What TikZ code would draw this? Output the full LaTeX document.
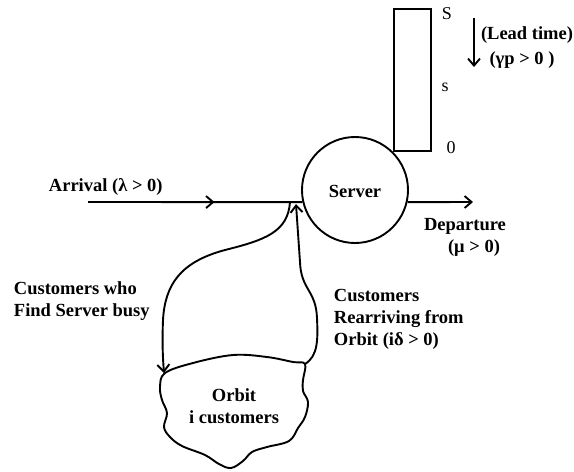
\documentclass[tikz,border=0pt]{standalone}
\usepackage{fontspec}
\setmainfont{Liberation Serif}
\usetikzlibrary{arrows.meta,decorations.markings}
\begin{document}
\begin{tikzpicture}[x=1pt,y=-1pt, line width=1.9pt,
  lbl/.style={font=\fontsize{18.5}{22}\selectfont\bfseries, inner sep=0pt},
  plain/.style={font=\fontsize{18}{22}\selectfont, inner sep=0pt},
  tip/.style={-{Straight Barb[length=7pt,width=12pt,line width=1.9pt]}},
  midarrow/.style={postaction={decorate},decoration={markings,
    mark=at position 0.59 with {\arrow{Straight Barb[length=7pt,width=12pt,line width=1.9pt]}}}}]
\useasboundingbox (0,0) rectangle (574,472);
% inventory
\node[draw, minimum width=37pt, minimum height=142pt, inner sep=0pt] (stock) at (412.5,80) {};
\node[plain] (S) at (447,14) {S};
\node[plain] (smalls) at (445,87) {s};
\node[plain] (zero) at (451,148) {0};
\coordinate (lt1) at (474,18);
\coordinate (lt2) at (474,67);
\draw[tip] (lt1) -- (lt2);
\node[lbl] (lead) at (527,35) {(Lead time)};
\node[lbl] (gamma) at (522,60) {(γp > 0 )};
% server
\node[draw, circle, minimum size=106pt, inner sep=0pt] (server) at (355,190) {};
\node[lbl] (servertext) at (355,191) {Server};
% arrival
\coordinate (arrstart) at (88,202);
\draw[midarrow] (arrstart) -- (server.193);
\node[lbl, anchor=west] (arrival) at (48,187) {Arrival (λ > 0)};
% departure
\coordinate (dep) at (473,202);
\draw[tip] (server.-13) -- (dep);
\node[lbl] (dep1) at (465,226) {Departure};
\node[lbl] (dep2) at (474,248) {(μ > 0)};
% orbit
\draw plot[smooth cycle, tension=0.6] coordinates {
  (165,373) (193,363) (233,355) (267,357) (293,362) (305,364)
  (303,380) (303,391) (308,402) (305,417) (298,428) (289,441)
  (267,447) (252,452) (243,461) (231,468) (219,464) (205,455)
  (182,446) (170,437) (164,427) (167,413) (162,400) (160,387)};
\node[lbl] (orbit) at (234,395) {Orbit};
\node[lbl] (orbit2) at (234,417) {i customers};
\coordinate (orbitin) at (164,373);
\coordinate (orbitout) at (305,364);
\coordinate (junc) at (290,202);
\coordinate (back) at (296,204);
% customers who find server busy
\draw[tip] (junc) .. controls (288,232) and (265,240) .. (225,250)
  .. controls (180,262) and (165,285) .. (163,320)
  .. controls (162,345) and (163,360) .. (orbitin);
% customers rearriving
\draw[tip] (orbitout) .. controls (318,356) and (318,340) .. (317,318)
  .. controls (316,290) and (301,290) .. (300,262)
  -- (back);
\node[lbl, anchor=west, align=left] (busy) at (13,301) {Customers who\\Find Server busy};
\node[lbl, anchor=west, align=left] (rearr) at (333,319.5) {Customers\\Rearriving from\\Orbit (iδ > 0)};
\end{tikzpicture}
\end{document}
